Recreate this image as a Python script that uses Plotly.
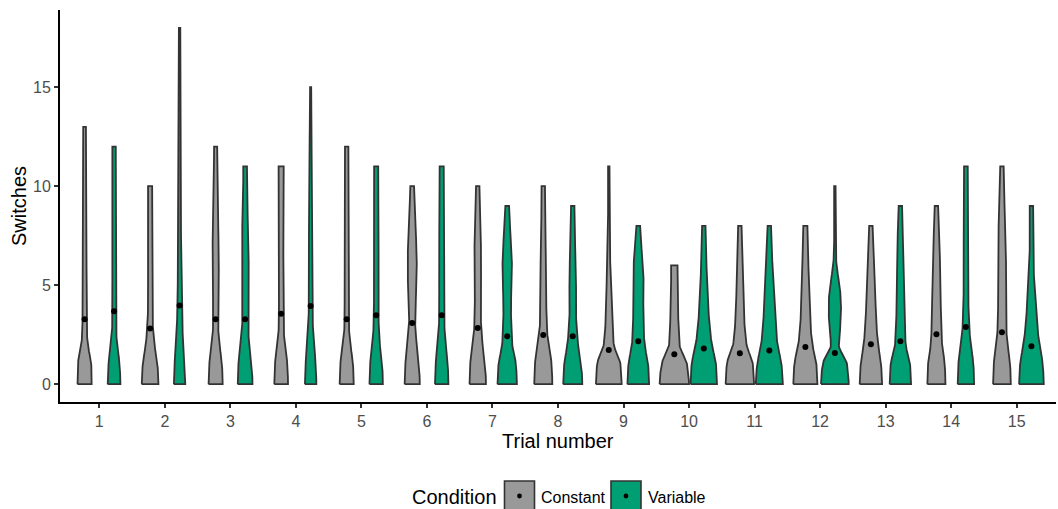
import numpy as np
import plotly.graph_objects as go

# ---------------- data ----------------
trials = list(range(1, 16))
tick_labels = [str(t) for t in trials]
conditions = ["Constant", "Variable"]

# mean number of switches (black dots)
constant_mean = [3.28, 2.81, 3.28, 3.56, 3.28, 3.09, 2.84, 2.49, 1.73, 1.51, 1.56, 1.88, 2.02, 2.52, 2.62]
variable_mean = [3.68, 3.98, 3.28, 3.95, 3.48, 3.48, 2.42, 2.42, 2.17, 1.80, 1.70, 1.58, 2.17, 2.89, 1.92]

# violin density profile (relative width) at switches = 0, 1, 2, ... max
constant_density = [
    [14.7, 14, 7, 4.7, 4.7, 4.5, 4.5, 4.5, 4.5, 4.5, 4.2, 4, 3.8, 3.3],
    [17.3, 15.3, 9.3, 6, 4.7, 4.7, 4.7, 4.7, 4.7, 4.7, 4.7],
    [14.7, 13.3, 8.3, 5.7, 5.7, 6.3, 7, 6.7, 5.7, 5, 4.3, 4, 3.7],
    [14.3, 13, 8, 5.3, 5, 5, 5, 5, 5, 5, 5, 5.7],
    [14.7, 13.3, 8, 5, 4.7, 4.7, 4.7, 4.7, 4.7, 4.7, 4.7, 4, 4],
    [15.7, 14.3, 9.7, 6.7, 7.3, 9, 9.7, 9, 7, 5.7, 4.3],
    [17, 15.7, 10.3, 7.3, 6.3, 7, 7.7, 7, 5.7, 4.7, 4],
    [18.7, 17.3, 11.3, 7.3, 6.7, 6, 6, 5.3, 4.7, 4, 4],
    [26.3, 24, 10.7, 7.3, 6, 5, 3.7, 2.3, 2, 2, 2, 2],
    [30, 26, 11, 9, 7.7, 7, 7],
    [29, 26.7, 14, 10, 8, 7.3, 6.7, 5.3, 4],
    [24.7, 22.7, 14.7, 10.7, 9, 7.7, 6.7, 5.3, 4.7],
    [23, 21, 15, 11.7, 10, 9.3, 7.3, 5.3, 4],
    [18.7, 17.3, 12, 10, 9.3, 8.7, 8, 6.7, 5.3, 4],
    [18.3, 17, 11.7, 9, 8.3, 8.3, 8.7, 8.7, 7.3, 5.7, 4.3, 4],
]
variable_density = [
    [13.3, 11.7, 6.7, 4.3, 4, 4, 4, 4, 4, 4, 4, 4, 4],
    [12, 10.7, 8, 6, 4.7, 4.3, 4, 3.7, 3.3, 3, 2.7, 2.7, 2.7, 2.3, 2, 2, 2, 2, 2],
    [15.3, 14, 9, 6.3, 6.3, 7, 7.7, 7.3, 6.3, 5, 4.3, 4.3],
    [12, 10.7, 7.7, 5, 4.3, 4.3, 4.3, 4, 4, 3.8, 3.7, 3.3, 3, 2.3, 2, 1.7],
    [14, 12.7, 8, 5.7, 5, 5, 5.3, 5.7, 6, 5.7, 5.3, 4.7],
    [14, 12.7, 8.7, 6, 5.3, 5.7, 6, 5.7, 5.3, 5, 4.7, 4.7],
    [20, 18, 10.7, 8.7, 8, 9.3, 10, 8.7, 6, 4.3],
    [19.7, 17.7, 11.3, 8, 6.7, 7.3, 6.7, 5.3, 4, 4],
    [22.3, 20.3, 13.3, 11, 10.7, 11.3, 10, 6.7, 4.3],
    [27, 25, 16.7, 12, 9.3, 7.3, 6, 4.7, 4],
    [27.7, 25, 17, 13, 11, 9, 7, 5, 4],
    [28.3, 25, 8.5, 12, 13, 10, 4, 2, 2, 2, 2],
    [22, 20, 11.3, 9.3, 8, 7.3, 7.3, 6.7, 5.3, 4],
    [17, 15.7, 10.3, 7, 5.7, 5, 5, 5, 5, 5, 4.3, 4.3],
    [25.3, 23.3, 16.7, 12, 9.3, 6.7, 4.7, 4, 4, 4],
]

# ---------------- styling ----------------
FILL = {"Constant": "#999999", "Variable": "#009E73"}
OUTLINE = "#333333"
FONT = "Liberation Sans, Arial, Helvetica, sans-serif"
DODGE = 0.225                 # half of dodge width 0.9 / 2 groups
UNIT = 0.45 / 29.5            # category units per density unit
STROKE = 0.6                  # outline thickness correction (density units)
LINE_W = 1.8


def pchip(xk, yk, x):
    xk = np.asarray(xk, float)
    yk = np.asarray(yk, float)
    h = np.diff(xk)
    d = np.diff(yk) / h
    n = len(xk)
    m = np.zeros(n)
    for i in range(1, n - 1):
        if d[i - 1] * d[i] > 0:
            w1 = 2 * h[i] + h[i - 1]
            w2 = h[i] + 2 * h[i - 1]
            m[i] = (w1 + w2) / (w1 / d[i - 1] + w2 / d[i])
    m[0] = 0.0
    m[-1] = d[-1] * 0.5
    idx = np.clip(np.searchsorted(xk, x, side="right") - 1, 0, n - 2)
    t = (x - xk[idx]) / h[idx]
    h00 = 2 * t**3 - 3 * t**2 + 1
    h10 = t**3 - 2 * t**2 + t
    h01 = -2 * t**3 + 3 * t**2
    h11 = t**3 - t**2
    return h00 * yk[idx] + h10 * h[idx] * m[idx] + h01 * yk[idx + 1] + h11 * h[idx] * m[idx + 1]


fig = go.Figure()

for cond, dens_list, means, sign in [
    ("Constant", constant_density, constant_mean, -1),
    ("Variable", variable_density, variable_mean, 1),
]:
    for trial, dens in zip(trials, dens_list):
        levels = np.arange(len(dens))
        ys = np.linspace(0, levels[-1], 120)
        w = pchip(levels, dens, ys)
        half = np.maximum(w - STROKE, 0.2) * UNIT / 2
        cx = trial + sign * DODGE
        xs = np.concatenate([cx - half, (cx + half)[::-1], [cx - half[0]]])
        yy = np.concatenate([ys, ys[::-1], [ys[0]]])
        fig.add_trace(go.Scatter(
            x=xs, y=yy, mode="lines", fill="toself",
            fillcolor=FILL[cond], line=dict(color=OUTLINE, width=LINE_W),
            showlegend=False, hoverinfo="skip",
        ))
    fig.add_trace(go.Scatter(
        x=[t + sign * DODGE for t in trials], y=means, mode="markers",
        marker=dict(color="black", size=6), showlegend=False, name=cond,
    ))

# ---------------- layout ----------------
L, R, T, B = 60, 2, 10, 107
W, H = 1058, 509
pw, ph = W - L - R, H - T - B


def px(xp):
    return (xp - L) / pw


def py(yp):
    return (H - B - yp) / ph


fig.update_layout(
    width=W, height=H,
    margin=dict(l=L, r=R, t=T, b=B),
    plot_bgcolor="white", paper_bgcolor="white",
    font=dict(family=FONT, size=16, color="#4D4D4D"),
    showlegend=False,
    xaxis=dict(
        range=[0.4, 15.6], tickmode="array", tickvals=trials, ticktext=tick_labels,
        showgrid=False, zeroline=False, showline=True, linecolor="black", linewidth=1.8,
        ticks="outside", ticklen=4, tickwidth=1.5, tickcolor="#333333",
        tickfont=dict(size=16, color="#4D4D4D"),
    ),
    yaxis=dict(
        range=[-0.9, 18.9], tickmode="array", tickvals=[0, 5, 10, 15],
        ticktext=["0", "5", "10", "15"],
        showgrid=False, zeroline=False, showline=True, linecolor="black", linewidth=1.8,
        ticks="outside", ticklen=4, tickwidth=1.5, tickcolor="#333333",
        tickfont=dict(size=16, color="#4D4D4D"),
    ),
)

annotations = [
    dict(text="Trial number", x=px(558), y=py(441), xref="paper", yref="paper",
         showarrow=False, xanchor="center", yanchor="middle",
         font=dict(size=20, color="black", family=FONT)),
    dict(text="Switches", x=px(19), y=py(206), xref="paper", yref="paper",
         showarrow=False, xanchor="center", yanchor="middle", textangle=-90,
         font=dict(size=20, color="black", family=FONT)),
    dict(text="Condition", x=px(410), y=py(497), xref="paper", yref="paper",
         showarrow=False, xanchor="left", yanchor="middle",
         font=dict(size=20, color="black", family=FONT)),
    dict(text="Constant", x=px(539), y=py(497), xref="paper", yref="paper",
         showarrow=False, xanchor="left", yanchor="middle",
         font=dict(size=16, color="black", family=FONT)),
    dict(text="Variable", x=px(646), y=py(497), xref="paper", yref="paper",
         showarrow=False, xanchor="left", yanchor="middle",
         font=dict(size=16, color="black", family=FONT)),
]
fig.update_layout(annotations=annotations)

shapes = []
for cond, x0 in [("Constant", 504.5), ("Variable", 611.0)]:
    shapes.append(dict(type="rect", xref="paper", yref="paper",
                       x0=px(x0), x1=px(x0 + 30), y0=py(511), y1=py(481),
                       fillcolor=FILL[cond], line=dict(color=OUTLINE, width=1.6)))
    cxp = x0 + 15
    shapes.append(dict(type="circle", xref="paper", yref="paper",
                       x0=px(cxp - 2.4), x1=px(cxp + 2.4), y0=py(498.4), y1=py(493.6),
                       fillcolor="black", line=dict(color="black", width=0)))
fig.update_layout(shapes=shapes)

fig.write_html(
    "out.html",
    config={"displayModeBar": False},
    post_script="document.body.style.margin='0';document.body.style.overflow='hidden';",
)
